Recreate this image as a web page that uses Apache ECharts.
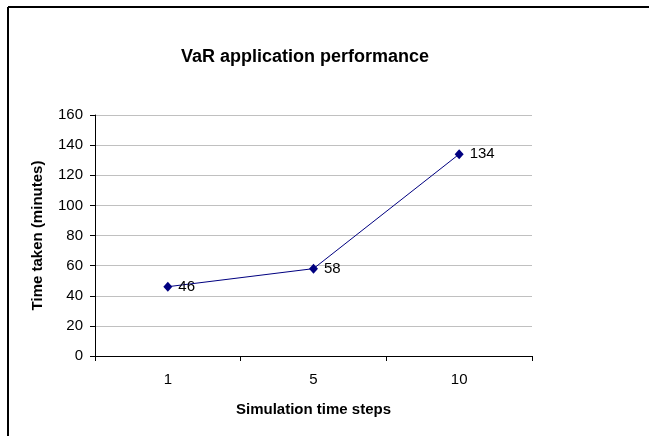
<!DOCTYPE html>
<html>
<head>
<meta charset="utf-8">
<script src="https://cdn.jsdelivr.net/npm/echarts@6/dist/echarts.min.js"></script>
<style>
  html, body { margin: 0; padding: 0; background: #fff; }
  #chart { width: 649px; height: 436px; }
</style>
</head>
<body>
<div id="chart"></div>
<script>
  // values
  var steps = ['1', '5', '10'];
  var minutes = [46, 58, 134];

  var font = 'Liberation Sans, Arial, sans-serif';
  var chart = echarts.init(document.getElementById('chart'), null, { renderer: 'canvas' });

  var option = {
    backgroundColor: '#ffffff',
    animation: false,
    title: {
      text: 'VaR application performance',
      left: 300,
      top: 43,
      textAlign: 'center',
      textStyle: { fontFamily: font, fontSize: 18, fontWeight: 'bold', color: '#000' }
    },
    graphic: [
      { type: 'line', shape: { x1: 8, y1: 7, x2: 649, y2: 7 }, style: { stroke: '#000', lineWidth: 2 } },
      { type: 'line', shape: { x1: 8, y1: 7, x2: 8, y2: 436 }, style: { stroke: '#000', lineWidth: 2 } }
    ],
    grid: { left: 95, right: 117, top: 115, bottom: 80 },
    xAxis: {
      type: 'category',
      data: steps,
      boundaryGap: true,
      name: 'Simulation time steps',
      nameLocation: 'middle',
      nameGap: 46,
      nameTextStyle: { fontFamily: font, fontSize: 15, fontWeight: 'bold', color: '#000' },
      axisLine: { lineStyle: { color: '#000', width: 1 } },
      axisTick: { show: true, length: 5, lineStyle: { color: '#000' } },
      axisLabel: { fontFamily: font, fontSize: 15, color: '#000', margin: 16 },
      splitLine: { show: false }
    },
    yAxis: {
      type: 'value',
      min: 0,
      max: 160,
      interval: 20,
      name: 'Time taken (minutes)',
      nameLocation: 'middle',
      nameGap: 50,
      nameRotate: 90,
      nameTextStyle: { fontFamily: font, fontSize: 15, fontWeight: 'bold', color: '#000' },
      axisLine: { show: true, lineStyle: { color: '#000', width: 1 } },
      axisTick: { show: true, length: 5, lineStyle: { color: '#000' } },
      axisLabel: { fontFamily: font, fontSize: 15, color: '#000', margin: 12 },
      splitLine: { show: true, lineStyle: { color: '#c0c0c0', width: 1 } }
    },
    series: [{
      name: 'Time taken',
      type: 'line',
      data: minutes,
      symbol: 'diamond',
      symbolSize: [9, 10],
      lineStyle: { color: '#000080', width: 1 },
      itemStyle: { color: '#000080' },
      label: {
        show: true,
        position: 'right',
        distance: 6,
        fontFamily: font,
        fontSize: 15,
        color: '#000'
      }
    }]
  };

  chart.setOption(option);
</script>
</body>
</html>
